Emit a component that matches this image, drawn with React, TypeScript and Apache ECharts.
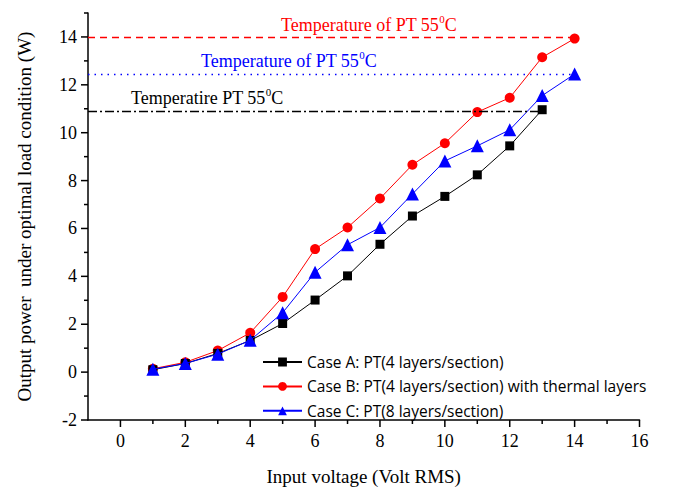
import React, { useEffect, useRef } from "react";
import * as echarts from "echarts";

const voltage = [1, 2, 3, 4, 5, 6, 7, 8, 9, 10, 11, 12, 13, 14];
const caseA = [0.1, 0.36, 0.78, 1.32, 2.03, 3.01, 4.02, 5.34, 6.52, 7.34, 8.24, 9.45, 10.96];
const caseB = [0.14, 0.41, 0.9, 1.64, 3.14, 5.14, 6.04, 7.25, 8.66, 9.56, 10.86, 11.46, 13.15, 13.93];
const caseC = [0.12, 0.36, 0.75, 1.33, 2.48, 4.17, 5.32, 6.04, 7.44, 8.82, 9.45, 10.12, 11.55, 12.45];

const seriesNames = [
  "Case A: PT(4 layers/section)",
  "Case B: PT(4 layers/section) with thermal layers",
  "Case C: PT(8 layers/section)",
];

const xMajorTicks = [0, 2, 4, 6, 8, 10, 12, 14, 16];
const xMinorTicks = [1, 3, 5, 7, 9, 11, 13, 15];
const yMajorTicks = [-2, 0, 2, 4, 6, 8, 10, 12, 14];
const yMinorTicks = [-1, 1, 3, 5, 7, 9, 11, 13, 15];

const xRange = [-1, 16];
const yRange = [-2, 15];

// temperature limit lines: [y value, x end]
const limitRed = [14.0, 14];
const limitBlue = [12.45, 14];
const limitBlack = [10.9, 13];

const serif = "'Liberation Serif', 'Times New Roman', serif";

export default function App() {
  const ref = useRef<HTMLDivElement>(null);
  useEffect(() => {
    if (!ref.current) return;
    const chart = echarts.init(ref.current, null, { renderer: "svg" });
    const pair = (ys: number[]) => ys.map((y, i) => [voltage[i], y]);
    const limitLine = (lim: number[], color: string, type: any) => ({
      silent: true,
      symbol: "none",
      label: { show: false },
      lineStyle: { color, width: 1.3, type },
      data: [[{ coord: [xRange[0], lim[0]] }, { coord: [lim[1], lim[0]] }]],
    });
    const annText = (id: string, text: string, color: string, left: number, top: number) => ({
      id,
      type: "text",
      left,
      top,
      style: {
        text,
        fontFamily: serif,
        fontSize: 18,
        fill: color,
        rich: {
          base: { fontFamily: serif, fontSize: 18, fill: color, lineHeight: 20 },
          sup: { fontFamily: serif, fontSize: 11, fill: color, lineHeight: 20, padding: [0, 0, 12, 0] },
        },
      },
    });
    chart.setOption({
      animation: false,
      backgroundColor: "#fff",
      grid: { left: 88, right: 49.5, top: 13, bottom: 78 },
      legend: {
        orient: "vertical",
        left: 262,
        top: 354,
        padding: 0,
        itemWidth: 39,
        itemHeight: 11,
        itemGap: 8.4,
        textStyle: { fontFamily: "'Open Sans', sans-serif", fontSize: 15.5, color: "#000" },
        data: seriesNames,
      },
      xAxis: {
        type: "value",
        min: xRange[0],
        max: xRange[1],
        position: "bottom",
        name: "Input voltage (Volt RMS)",
        nameLocation: "middle",
        nameGap: 47,
        nameTextStyle: { fontFamily: serif, fontSize: 19, color: "#000" },
        axisLine: { show: true, onZero: false, lineStyle: { color: "#000", width: 1.5 } },
        axisTick: { show: false },
        axisLabel: { customValues: xMajorTicks, fontFamily: serif, fontSize: 18, color: "#000", margin: 12 },
        splitLine: { show: false },
      },
      yAxis: {
        type: "value",
        min: yRange[0],
        max: yRange[1],
        position: "left",
        name: "Output power  under optimal load condition (W)",
        nameLocation: "middle",
        nameGap: 54,
        nameTextStyle: { fontFamily: serif, fontSize: 19, color: "#000" },
        axisLine: { show: true, onZero: false, lineStyle: { color: "#000", width: 1.5 } },
        axisTick: { show: false },
        axisLabel: { customValues: yMajorTicks, fontFamily: serif, fontSize: 18, color: "#000", margin: 11 },
        splitLine: { show: false },
      },
      series: [
        {
          name: seriesNames[0],
          type: "line",
          data: pair(caseA),
          symbol: "rect",
          symbolSize: 9,
          color: "#000000",
          lineStyle: { width: 1, color: "#000000" },
          itemStyle: { color: "#000000" },
          markLine: limitLine(limitBlack, "#000000", [9, 3, 2, 3]),
          z: 3,
        },
        {
          name: seriesNames[1],
          type: "line",
          data: pair(caseB),
          symbol: "circle",
          symbolSize: 10,
          color: "#ff0000",
          lineStyle: { width: 1, color: "#ff0000" },
          itemStyle: { color: "#ff0000" },
          markLine: limitLine(limitRed, "#ff0000", [7, 5]),
          z: 2,
        },
        {
          name: seriesNames[2],
          type: "line",
          data: pair(caseC),
          symbol: "triangle",
          symbolSize: 13,
          color: "#0000ff",
          lineStyle: { width: 1, color: "#0000ff" },
          itemStyle: { color: "#0000ff" },
          markLine: limitLine(limitBlue, "#0000ff", [1.5, 5]),
          z: 4,
        },
      ],
    });

    // axis ticks placed through the axes' own scales
    const xPix = (v: number) => chart.convertToPixel({ xAxisIndex: 0 }, v) as unknown as number;
    const yPix = (v: number) => chart.convertToPixel({ yAxisIndex: 0 }, v) as unknown as number;
    const axisX = xPix(xRange[0]);
    const axisY = yPix(yRange[0]);
    const ticks: any[] = [];
    const tick = (id: string, x1: number, y1: number, x2: number, y2: number) =>
      ticks.push({
        id,
        type: "line",
        silent: true,
        z: 10,
        shape: { x1, y1, x2, y2 },
        style: { stroke: "#000", lineWidth: 1.5 },
      });
    xMajorTicks.forEach((v, i) => { const p = xPix(v); tick("xM" + i, p, axisY, p, axisY + 7); });
    xMinorTicks.forEach((v, i) => { const p = xPix(v); tick("xm" + i, p, axisY, p, axisY + 4); });
    yMajorTicks.forEach((v, i) => { const p = yPix(v); tick("yM" + i, axisX, p, axisX - 7, p); });
    yMinorTicks.forEach((v, i) => { const p = yPix(v); tick("ym" + i, axisX, p, axisX - 4, p); });

    chart.setOption({
      graphic: [
        annText("t1", "{base|Temperature of PT 55}{sup|0}{base|C}", "#ff0000", 281, 13),
        annText("t2", "{base|Temperature of PT 55}{sup|0}{base|C}", "#0000ff", 201, 49),
        annText("t3", "{base|Temperatire PT 55}{sup|0}{base|C}", "#000000", 131, 86),
        ...ticks,
      ],
    });
    return () => chart.dispose();
  }, []);
  return (
    <div
      ref={ref}
      style={{ position: "fixed", left: 0, top: 0, width: 689, height: 498, background: "#fff" }}
    />
  );
}
